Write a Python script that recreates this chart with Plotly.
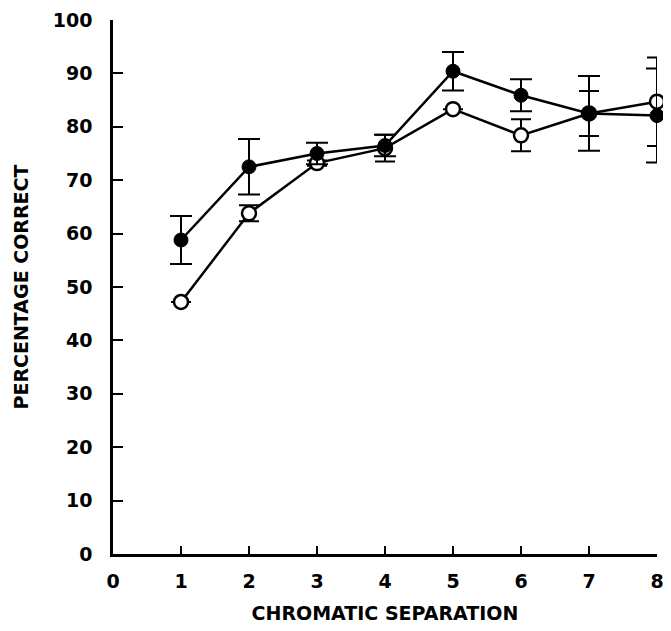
import plotly.graph_objects as go

x_vals = [1, 2, 3, 4, 5, 6, 7, 8]
filled_y = [58.8, 72.5, 75.0, 76.5, 90.4, 85.9, 82.5, 82.1]
filled_err = [4.5, 5.2, 2.0, 2.0, 3.6, 3.0, 7.0, 8.8]
open_y = [47.2, 63.8, 73.2, 76.0, 83.3, 78.4, 82.5, 84.7]
open_err = [0.0, 1.5, 0.5, 2.5, 0.0, 3.0, 4.2, 8.3]

x_ticks = [0, 1, 2, 3, 4, 5, 6, 7, 8]
y_ticks = [0, 10, 20, 30, 40, 50, 60, 70, 80, 90, 100]

FONT = "DejaVu Sans"

fig = go.Figure()
fig.add_trace(go.Scatter(
    x=x_vals, y=open_y, mode="lines+markers",
    line=dict(color="black", width=2.5),
    marker=dict(size=14, color="white", line=dict(color="black", width=2.5)),
    error_y=dict(type="data", array=open_err, color="black", thickness=2, width=10),
    cliponaxis=False, showlegend=False,
))
fig.add_trace(go.Scatter(
    x=x_vals, y=filled_y, mode="lines+markers",
    line=dict(color="black", width=2.5),
    marker=dict(size=14, color="black", line=dict(color="black", width=1)),
    error_y=dict(type="data", array=filled_err, color="black", thickness=2, width=11),
    cliponaxis=False, showlegend=False,
))

# page body has an 8px default margin, so the figure is sized/offset for it
fig.update_layout(
    width=663, height=623,
    margin=dict(l=105, r=14, t=12, b=77),
    paper_bgcolor="white", plot_bgcolor="white",
    font=dict(family=FONT, color="black"),
    xaxis=dict(
        range=[0, 8], tickvals=x_ticks, ticktext=[str(v) for v in x_ticks],
        showline=True, linecolor="black", linewidth=2.5,
        ticks="inside", ticklen=8, tickwidth=2, tickcolor="black",
        showgrid=False, zeroline=False, automargin=False,
        tickfont=dict(size=19, family=FONT, weight="bold"),
        ticklabelstandoff=8, ticklabeloverflow="allow",
        title=dict(text="CHROMATIC SEPARATION",
                   font=dict(size=19, family=FONT, weight="bold"), standoff=17),
    ),
    yaxis=dict(
        range=[0, 100], tickvals=y_ticks, ticktext=[str(v) for v in y_ticks],
        showline=True, linecolor="black", linewidth=2.5,
        ticks="inside", ticklen=10, tickwidth=2, tickcolor="black",
        showgrid=False, zeroline=False, automargin=False,
        tickfont=dict(size=19, family=FONT, weight="bold"),
        ticklabelstandoff=14, ticklabeloverflow="allow",
        title=dict(text="PERCENTAGE CORRECT",
                   font=dict(size=19, family=FONT, weight="bold"), standoff=20),
    ),
)

fig.write_html("out.html")
